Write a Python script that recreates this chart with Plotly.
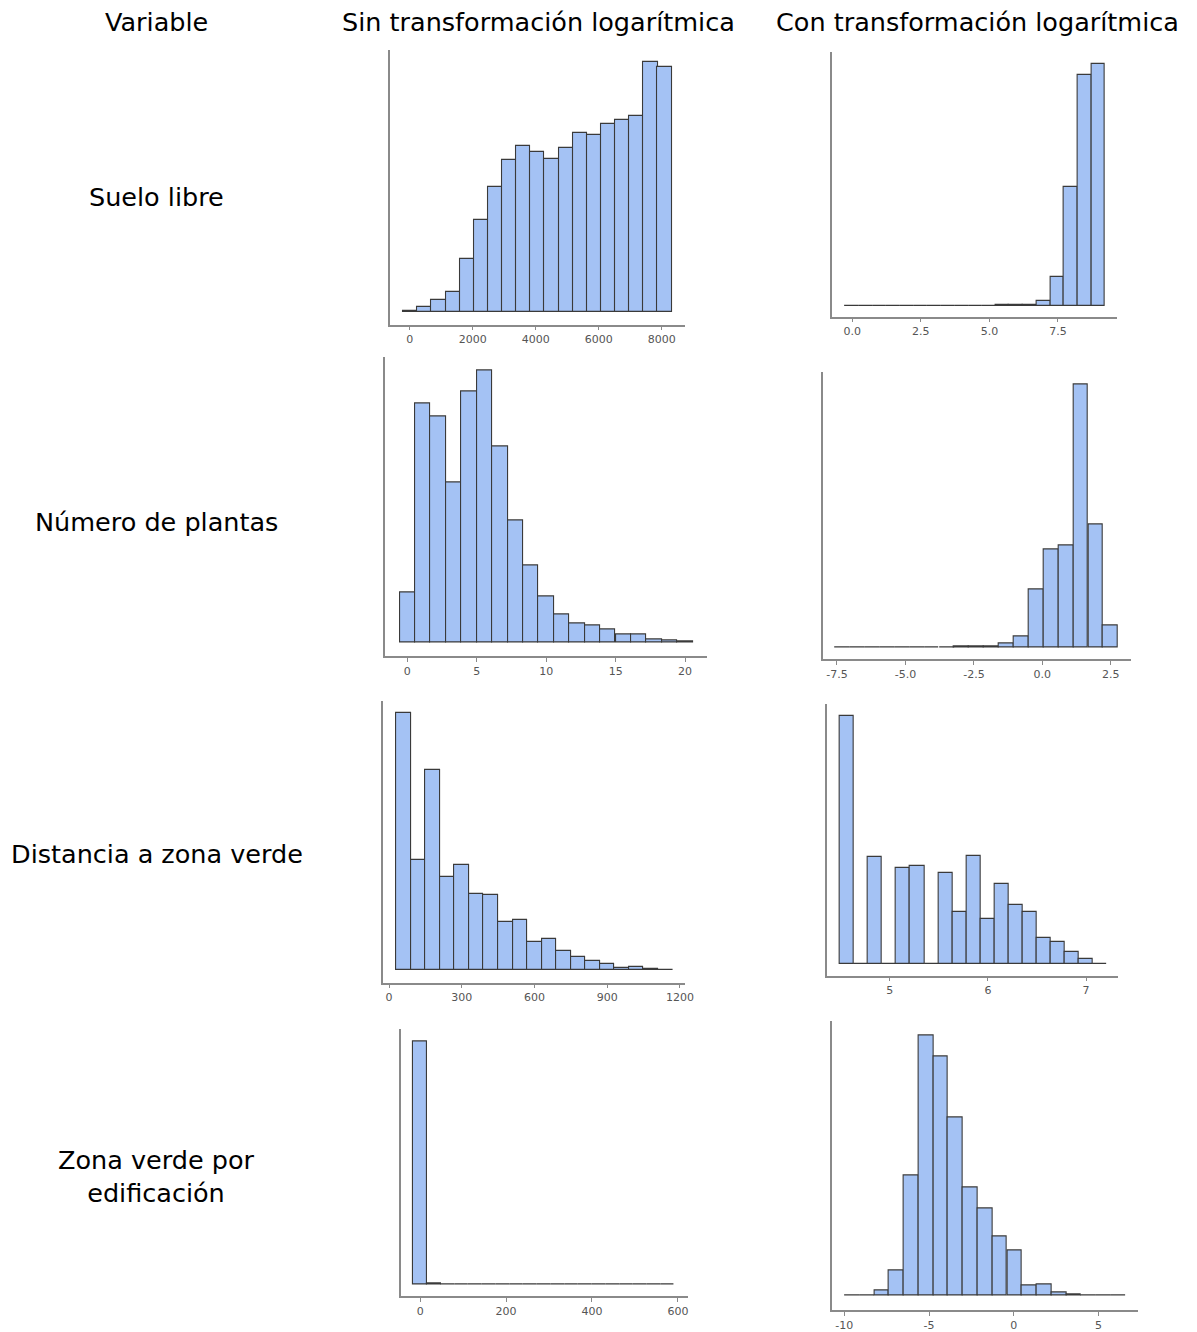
import plotly.graph_objects as go

# ---------------- data ----------------
col_titles = ["Variable", "Sin transformación logarítmica", "Con transformación logarítmica"]
row_labels = ["Suelo libre", "Número de plantas", "Distancia a zona verde", "Zona verde por<br>edificación"]

# Row 1 - Suelo libre
suelo_raw_bins = [16, 465, 913, 1362, 1811, 2260, 2709, 3157, 3606, 4055, 4504, 4953, 5402, 5850, 6299, 6748, 7197, 7646, 8094]
suelo_raw_counts = [3, 16, 36, 61, 160, 277, 375, 457, 499, 482, 462, 493, 540, 532, 565, 577, 590, 752, 737]
suelo_log_bins = [-0.02, 0.48, 0.98, 1.48, 1.98, 2.48, 2.98, 3.48, 3.98, 4.48, 4.97, 5.47, 5.97, 6.47, 6.97, 7.47, 7.97, 8.47, 8.97]
suelo_log_counts = [0, 0, 0, 0, 0, 0, 0, 0, 0, 0, 0, 1, 2, 3, 14, 87, 357, 693, 727]

# Row 2 - Número de plantas
plantas_raw_bins = [0, 1.11, 2.22, 3.33, 4.44, 5.56, 6.67, 7.78, 8.89, 10, 11.11, 12.22, 13.33, 14.44, 15.56, 16.67, 17.78, 18.89, 20]
plantas_raw_counts = [148, 718, 678, 480, 753, 817, 587, 366, 230, 136, 84, 55, 49, 38, 24, 22, 9, 5, 1]
plantas_log_bins = [-7.30, -6.76, -6.21, -5.67, -5.12, -4.58, -4.04, -3.49, -2.95, -2.40, -1.86, -1.32, -0.77, -0.23, 0.32, 0.86, 1.40, 1.95, 2.49]
plantas_log_counts = [0, 0, 0, 0, 0, 0, 0, 0, 1, 1, 3, 11, 32, 173, 294, 306, 787, 368, 66]

# Row 3 - Distancia a zona verde
dist_raw_bins = [60, 120, 180, 240, 300, 360, 420, 480, 540, 600, 660, 720, 780, 840, 900, 960, 1020, 1080, 1140]
dist_raw_counts = [773, 333, 603, 282, 317, 230, 225, 145, 150, 85, 94, 58, 40, 27, 19, 7, 10, 5, 2]
dist_log_bins = [4.564, 4.707, 4.850, 4.993, 5.136, 5.280, 5.423, 5.566, 5.709, 5.852, 5.995, 6.138, 6.281, 6.424, 6.567, 6.711, 6.854, 6.997, 7.140]
dist_log_counts = [746, 0, 322, 0, 289, 295, 0, 274, 156, 325, 137, 242, 179, 156, 79, 68, 36, 15, 0]

# Row 4 - Zona verde por edificación
zv_raw_bins = [0, 32, 64, 96, 128, 160, 192, 224, 256, 288, 320, 352, 384, 416, 448, 480, 512, 544, 576]
zv_raw_counts = [733, 3, 0, 0, 0, 0, 0, 0, 0, 0, 0, 0, 0, 0, 0, 0, 0, 0, 0]
zv_log_bins = [-9.53, -8.66, -7.79, -6.92, -6.05, -5.18, -4.31, -3.44, -2.57, -1.70, -0.83, 0.05, 0.92, 1.79, 2.66, 3.53, 4.40, 5.27, 6.14]
zv_log_counts = [0, 2, 16, 77, 359, 780, 717, 533, 323, 260, 178, 136, 30, 34, 11, 5, 1, 2, 1]

# tick labels
suelo_raw_ticks = [0, 2000, 4000, 6000, 8000]
suelo_log_ticks = [0.0, 2.5, 5.0, 7.5]
plantas_raw_ticks = [0, 5, 10, 15, 20]
plantas_log_ticks = [-7.5, -5.0, -2.5, 0.0, 2.5]
dist_raw_ticks = [0, 300, 600, 900, 1200]
dist_log_ticks = [5, 6, 7]
zv_raw_ticks = [0, 200, 400, 600]
zv_log_ticks = [-10, -5, 0, 5]

# ---------------- layout helpers ----------------
OFF = 8                      # default page body margin
W, H = 1197 - 2 * OFF, 1332 - OFF
FILL = "#a4c2f4"
EDGE = "#3a3a3a"
AXIS = "#8a8a8a"
TICKFONT = dict(family="DejaVu Sans", size=11, color="#555555")
TEXTFONT = dict(family="DejaVu Sans", size=25.5, color="#000000")


def fx(p):
    return (p - OFF) / W


def fy(p):
    return 1 - (p - OFF) / H


panels = [
    # bins, counts, width, ticks, tick fmt, pixel box (L, R, T, B), xrange, yrange
    (suelo_raw_bins, suelo_raw_counts, 449, suelo_raw_ticks, "{:.0f}", (393, 690, 50, 325), [-628, 8735], [-37, 788]),
    (suelo_log_bins, suelo_log_counts, 0.499, suelo_log_ticks, "{:.1f}", (838, 1126, 52, 317), [-0.75, 9.67], [-33, 762]),
    (plantas_raw_bins, plantas_raw_counts, 1.11, plantas_raw_ticks, "{:.0f}", (388, 712, 358, 657), [-1.60, 21.55], [-42, 855]),
    (plantas_log_bins, plantas_log_counts, 0.544, plantas_log_ticks, "{:.1f}", (829, 1140, 373, 660), [-8.02, 3.25], [-36, 824]),
    (dist_raw_bins, dist_raw_counts, 60, dist_raw_ticks, "{:.0f}", (386, 690, 702, 984), [-24.5, 1220], [-37, 810]),
    (dist_log_bins, dist_log_counts, 0.143, dist_log_ticks, "{:.0f}", (833, 1127, 705, 977), [4.358, 7.33], [-34, 781]),
    (zv_raw_bins, zv_raw_counts, 32, zv_raw_ticks, "{:.0f}", (404, 693, 1031, 1298), [-44.7, 623], [-35, 768]),
    (zv_log_bins, zv_log_counts, 0.87, zv_log_ticks, "{:.0f}", (838, 1147, 1023, 1312), [-10.745, 7.35], [-43, 822]),
]

fig = go.Figure()
layout = {}
for i, (bins, counts, bw, ticks, fmt, box, xr, yr) in enumerate(panels):
    n = "" if i == 0 else str(i + 1)
    L, R, T, B = box
    fig.add_trace(go.Bar(
        x=bins, y=counts, width=bw,
        marker=dict(color=FILL, line=dict(color=EDGE, width=1.1)),
        xaxis="x" + n, yaxis="y" + n, showlegend=False, hoverinfo="x+y",
    ))
    layout["xaxis" + n] = dict(
        domain=[fx(L), fx(R)], anchor="y" + n, range=xr,
        showline=True, linecolor=AXIS, linewidth=1.5,
        showgrid=False, zeroline=False,
        tickmode="array", tickvals=ticks, ticktext=[fmt.format(t) for t in ticks],
        ticks="outside", ticklen=4, tickwidth=1.2, tickcolor=AXIS,
        tickfont=TICKFONT, fixedrange=True,
    )
    layout["yaxis" + n] = dict(
        domain=[fy(B), fy(T)], anchor="x" + n, range=yr,
        showline=True, linecolor=AXIS, linewidth=1.5,
        showgrid=False, zeroline=False, showticklabels=False, ticks="",
        fixedrange=True,
    )

annotations = []
header_x = [158, 542.5, 984.5]
for t, xc in zip(col_titles, header_x):
    annotations.append(dict(text=t, x=fx(xc), y=fy(22), xref="paper", yref="paper",
                            xanchor="center", yanchor="middle", showarrow=False, font=TEXTFONT))
row_y = [197, 523, 855, 1178]
for t, yc in zip(row_labels, row_y):
    annotations.append(dict(text=t, x=fx(158), y=fy(yc), xref="paper", yref="paper",
                            xanchor="center", yanchor="middle", showarrow=False, font=TEXTFONT,
                            align="center"))

fig.update_layout(
    width=W, height=H, margin=dict(l=0, r=0, t=0, b=0),
    paper_bgcolor="white", plot_bgcolor="white",
    bargap=0, annotations=annotations, **layout,
)
fig.write_html("out.html", config={"displayModeBar": False})
